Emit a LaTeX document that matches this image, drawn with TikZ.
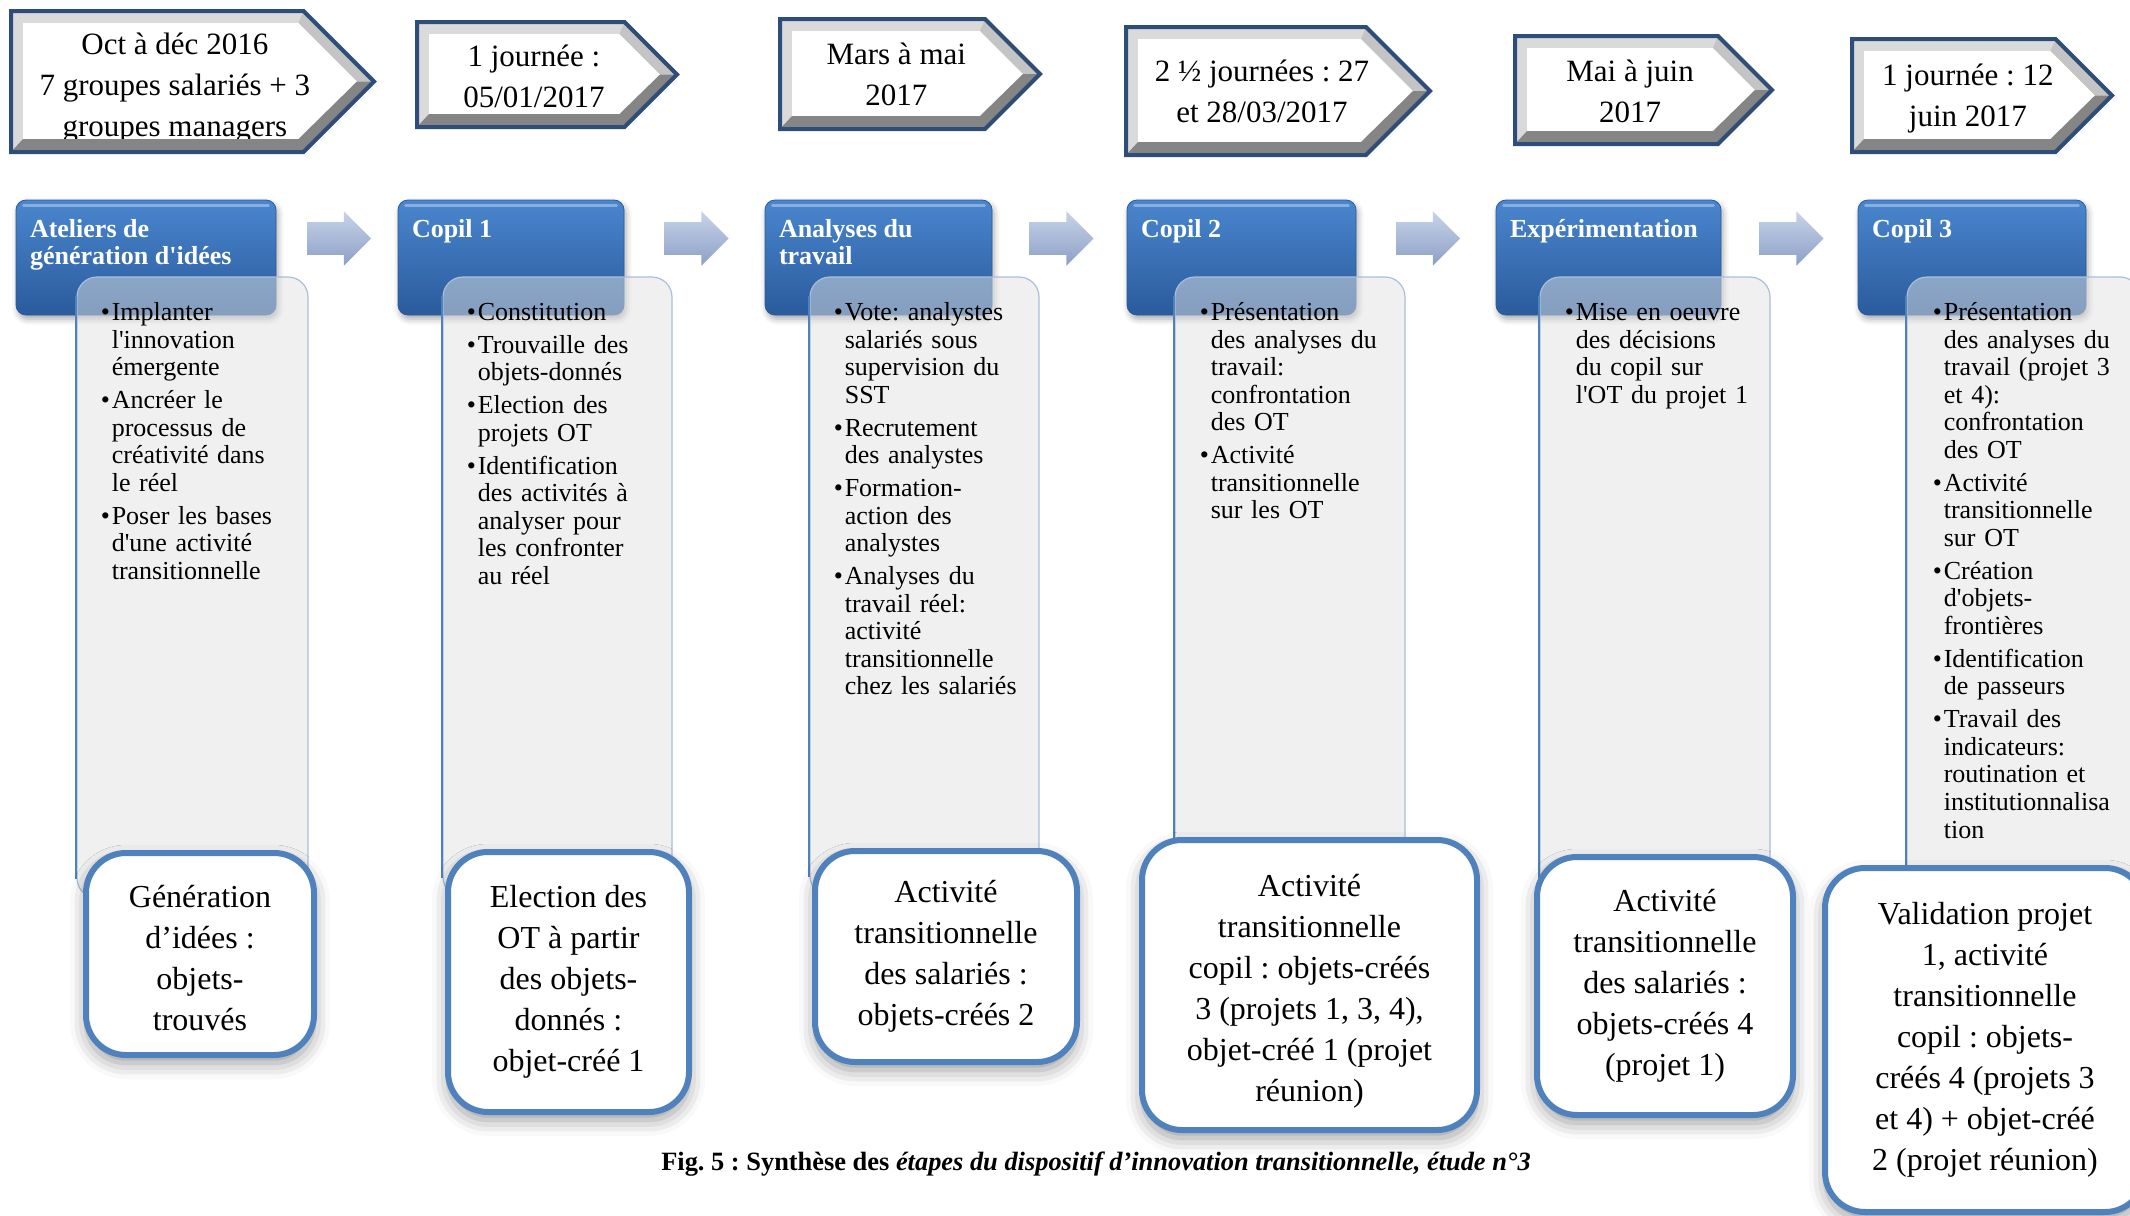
\documentclass[tikz,border=0pt]{standalone}
\usepackage{fontspec}
\setmainfont{Liberation Serif}
\newfontfamily\tnr{Liberation Serif}
\usetikzlibrary{calc,positioning,fit,shapes.arrows,shadows,shadows.blur}

\definecolor{chevblue}{HTML}{2E4D78}
\definecolor{bevlight}{HTML}{DADADA}
\definecolor{bevmid}{HTML}{C4C4C4}
\definecolor{bevdark}{HTML}{858585}
\definecolor{headtop}{HTML}{4A86CE}
\definecolor{headbot}{HTML}{2A5B9C}
\definecolor{bodygray}{HTML}{E2E2E2}
\definecolor{bodyline}{HTML}{A9BEDC}
\definecolor{boxblue}{HTML}{4F81BD}
\definecolor{arrtop}{HTML}{C8D3E8}
\definecolor{arrbot}{HTML}{8B9FC6}

% fleche datee en relief : [decalage texte], nom, x0, y0, x1, y1, texte
\newcommand{\chevron}[7][0]{%
  \pgfmathsetmacro\chh{(#6-#4)/2}
  \pgfmathsetmacro\cxs{#5-\chh}
  \pgfmathsetmacro\cym{(#4+#6)/2}
  \fill[bevlight] (#3,#4) -- (\cxs,#4) -- (#5,\cym) -- (\cxs,#6) -- (#3,#6) -- cycle;
  \fill[white] ({#3+12},{#4+12}) -- ({\cxs-5},{#4+12}) -- ({#5-17},\cym)
    -- ({\cxs-5},{#6-13}) -- ({#3+12},{#6-13}) -- cycle;
  \node[chevtext] (#2) at ({(#3+#5-\chh/2)/2},{\cym+#1}) {#7};
  \fill[bevmid] (\cxs,#4) -- (#5,\cym) -- ({#5-17},\cym) -- ({\cxs-5},{#4+12}) -- cycle;
  \fill[bevdark] (#3,#6) -- (\cxs,#6) -- (#5,\cym) -- ({#5-17},\cym)
    -- ({\cxs-5},{#6-13}) -- ({#3+12},{#6-13}) -- cycle;
  \draw[chevline] (#3,#4) -- (\cxs,#4) -- (#5,\cym) -- (\cxs,#6) -- (#3,#6) -- cycle;
}

% puce avec retrait
\newcommand{\bul}[1]{\par{\let\\\newline\hangindent=5.5pt\hangafter=1\noindent
  \makebox[5.5pt][l]{\textbullet}#1\par}\vspace{2.6pt}}

\begin{document}
\tnr\frenchspacing
\begin{tikzpicture}[x=0.5pt, y=-0.5pt,
  chevline/.style={draw=chevblue, line width=2pt, line join=miter},
  chevtext/.style={align=center, inner sep=0pt, font=\fontsize{15.5}{20.5}\selectfont},
  head/.style={rounded corners=5pt, top color=headtop, bottom color=headbot,
    draw=headbot, line width=0.4pt, inner sep=0pt,
    blur shadow={shadow xshift=1pt, shadow yshift=-2pt, shadow blur radius=3pt, shadow opacity=35}},
  headtext/.style={anchor=north west, align=left, inner sep=0pt, text=white,
    font=\bfseries\fontsize{13}{13.5}\selectfont},
  headshine/.style={draw=white, opacity=0.35, line width=1.5pt, line cap=round},
  body/.style={rounded corners=10pt, fill=bodygray, fill opacity=0.5,
    draw=bodyline, line width=0.6pt, inner sep=0pt},
  bodyedge/.style={draw=boxblue, line width=1pt},
  bodytext/.style={anchor=north west, align=left, inner sep=0pt, text width=105pt,
    font=\fontsize{13}{13.8}\selectfont},
  outbox/.style={draw=boxblue, line width=3pt, fill=white, rounded corners=20pt, inner sep=0pt,
    blur shadow={shadow xshift=0pt, shadow yshift=-4pt, shadow blur radius=8pt, shadow opacity=40}},
  outtext/.style={align=center, inner sep=0pt, font=\fontsize{16}{20.5}\selectfont},
  steparrow/.style={single arrow, single arrow head extend=5.5pt, minimum height=32pt,
    inner sep=8pt, top color=arrtop, bottom color=arrbot, draw=none},
  captext/.style={font=\bfseries\fontsize{13.2}{15}\selectfont}
]
\useasboundingbox (0,0) rectangle (2130,1215);
\clip (0,0) rectangle (2130,1215);

% periodes
\chevron[7]{d1}{11}{11}{374}{152}{Oct à déc 2016\\7 groupes salariés + 3\\groupes managers}
\chevron[2]{d2}{417}{22}{677}{127}{1 journée :\\05/01/2017}
\chevron{d3}{780}{19}{1040}{129}{Mars à mai\\2017}
\chevron{d4}{1126}{27}{1430}{155}{2 ½ journées : 27\\et 28/03/2017}
\chevron[1]{d5}{1515}{36}{1772}{144}{Mai à juin\\2017}
\chevron[3]{d6}{1852}{39}{2112}{152}{1 journée : 12\\juin 2017}

% etapes
\node[head, fit={(16,200) (276,315)}] (h1) {};
\node[head, fit={(398,200) (624,315)}] (h2) {};
\node[head, fit={(765,200) (992,315)}] (h3) {};
\node[head, fit={(1127,200) (1356,315)}] (h4) {};
\node[head, fit={(1496,200) (1721,315)}] (h5) {};
\node[head, fit={(1858,200) (2086,315)}] (h6) {};
\foreach \i in {1,...,6}
  \draw[headshine] ($(h\i.north west)+(8,6)$) -- ($(h\i.north east)+(-8,6)$);

\node[headtext] (h1t) at ($(h1.north west)+(14,19)$) {Ateliers de\\génération d'idées};
\node[headtext] (h2t) at ($(h2.north west)+(14,19)$) {Copil 1};
\node[headtext] (h3t) at ($(h3.north west)+(14,19)$) {Analyses du\\travail};
\node[headtext] (h4t) at ($(h4.north west)+(14,19)$) {Copil 2};
\node[headtext] (h5t) at ($(h5.north west)+(14,19)$) {Expérimentation};
\node[headtext] (h6t) at ($(h6.north west)+(14,19)$) {Copil 3};

% contenus
\node[body, fit={(77,277) (308,898)}] (b1) {};
\node[body, fit={(443,277) (672,897)}] (b2) {};
\node[body, fit={(810,277) (1039,896)}] (b3) {};
\node[body, fit={(1175,277) (1405,885)}] (b4) {};
\node[body, fit={(1540,277) (1770,902)}] (b5) {};
\node[body, fit={(1907,277) (2140,913)}] (b6) {};
\foreach \i in {1,...,6}
  \draw[bodyedge] ($(b\i.north west)+(0,20)$) -- ($(b\i.south west)+(0,-20)$);

\node[bodytext] (b1t) at ($(b1.north west)+(24,16)$) {%
  \bul{Implanter\\l'innovation\\émergente}
  \bul{Ancréer le\\processus de\\créativité dans\\le réel}
  \bul{Poser les bases\\d'une activité\\transitionnelle}};
\node[bodytext] (b2t) at ($(b2.north west)+(24,16)$) {%
  \bul{Constitution}
  \bul{Trouvaille des\\objets-donnés}
  \bul{Election des\\projets OT}
  \bul{Identification\\des activités à\\analyser pour\\les confronter\\au réel}};
\node[bodytext] (b3t) at ($(b3.north west)+(24,16)$) {%
  \bul{Vote: analystes\\salariés sous\\supervision du\\SST}
  \bul{Recrutement\\des analystes}
  \bul{Formation-\\action des\\analystes}
  \bul{Analyses du\\travail réel:\\activité\\transitionnelle\\chez les salariés}};
\node[bodytext] (b4t) at ($(b4.north west)+(25,16)$) {%
  \bul{Présentation\\des analyses du\\travail:\\confrontation\\des OT}
  \bul{Activité\\transitionnelle\\sur les OT}};
\node[bodytext] (b5t) at ($(b5.north west)+(25,16)$) {%
  \bul{Mise en oeuvre\\des décisions\\du copil sur\\l'OT du projet 1}};
\node[bodytext] (b6t) at ($(b6.north west)+(26,16)$) {%
  \bul{Présentation\\des analyses du\\travail (projet 3\\et 4):\\confrontation\\des OT}
  \bul{Activité\\transitionnelle\\sur OT}
  \bul{Création\\d'objets-\\frontières}
  \bul{Identification\\de passeurs}
  \bul{Travail des\\indicateurs:\\routination et\\institutionnalisa\\tion}};

% objets produits
\node[outbox, fit={(86,853) (314,1055)}] (o1) {};
\node[outbox, fit={(448,852) (689,1112)}] (o2) {};
\node[outbox, fit={(815,851) (1077,1062)}] (o3) {};
\node[outbox, fit={(1142,840) (1477,1130)}] (o4) {};
\node[outbox, fit={(1537,857) (1793,1115)}] (o5) {};
\node[outbox, fit={(1825,868) (2145,1212)}] (o6) {};

\node[outtext] (o1t) at ($(o1.center)+(0,4)$) {Génération\\d’idées :\\objets-\\trouvés};
\node[outtext] (o2t) at (o2.center) {Election des\\OT à partir\\des objets-\\donnés :\\objet-créé 1};
\node[outtext] (o3t) at (o3.center) {Activité\\transitionnelle\\des salariés :\\objets-créés 2};
\node[outtext] (o4t) at ($(o4.center)+(0,6)$) {Activité\\transitionnelle\\copil : objets-créés\\3 (projets 1, 3, 4),\\objet-créé 1 (projet\\réunion)};
\node[outtext] (o5t) at (o5.center) {Activité\\transitionnelle\\des salariés :\\objets-créés 4\\(projet 1)};
\node[outtext] (o6t) at (o6.center) {Validation projet\\1, activité\\transitionnelle\\copil : objets-\\créés 4 (projets 3\\et 4) + objet-créé\\2 (projet réunion)};

% fleches entre etapes
\foreach \i/\j in {1/2,2/3,3/4,4/5,5/6}
  \node[steparrow] (a\i) at ($(h\i.east)!0.5!(h\j.west)+(-6,-19)$) {};

% legende
\node[captext] (cap) at (1096,1164) {Fig. 5 : Synthèse des \textit{étapes du dispositif d’innovation transitionnelle, étude n°3}};

\end{tikzpicture}
\end{document}
